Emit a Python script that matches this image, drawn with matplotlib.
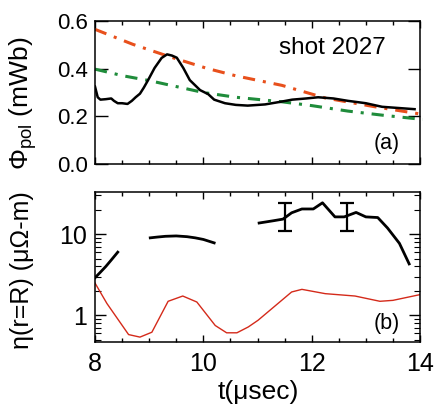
import matplotlib
matplotlib.use("Agg")
import matplotlib.pyplot as plt
from matplotlib.ticker import MultipleLocator, LogLocator, NullFormatter, FixedLocator
import numpy as np

plt.rcParams['font.family'] = ['Liberation Sans', 'DejaVu Sans']
plt.rcParams['mathtext.fontset'] = 'custom'
plt.rcParams['mathtext.rm'] = 'Liberation Sans'
plt.rcParams['mathtext.it'] = 'Liberation Sans:italic'

# ---- panel (a) data ----
flux_t = [8.00, 8.05, 8.10, 8.20, 8.30, 8.35, 8.42, 8.50, 8.60, 8.68, 8.75, 8.83, 8.90,
          8.98, 9.10, 9.23, 9.33, 9.42, 9.51, 9.63, 9.75, 9.94, 10.09, 10.20, 10.40,
          10.60, 10.82, 11.14, 11.40, 11.64, 11.90, 12.12, 12.40, 12.67, 13.00, 13.30,
          13.60, 13.90]
flux = [0.325, 0.280, 0.270, 0.272, 0.275, 0.265, 0.255, 0.255, 0.252, 0.265, 0.280, 0.295,
        0.320, 0.352, 0.403, 0.445, 0.460, 0.455, 0.446, 0.403, 0.352, 0.310, 0.293, 0.270,
        0.255, 0.248, 0.245, 0.250, 0.260, 0.270, 0.275, 0.280, 0.275, 0.265, 0.255, 0.240,
        0.235, 0.230]
fit1_t = [8.0, 8.7, 9.38, 10.07, 10.6, 11.45, 12.25, 13.17, 14.0]
fit1 = [0.565, 0.502, 0.450, 0.401, 0.370, 0.330, 0.277, 0.240, 0.210]
fit2_t = [8.0, 8.52, 9.0, 9.4, 10.0, 10.6, 11.45, 12.0, 12.67, 13.3, 14.05]
fit2 = [0.398, 0.370, 0.350, 0.330, 0.300, 0.280, 0.261, 0.245, 0.222, 0.205, 0.187]

# ---- panel (b) data ----
eta1_t = [8.0, 8.1, 8.2, 8.3, 8.42]
eta1 = [2.9, 3.4, 4.0, 4.8, 6.0]
eta2_t = [9.02, 9.15, 9.3, 9.5, 9.7, 9.85, 10.0, 10.2]
eta2 = [9.0, 9.2, 9.4, 9.5, 9.3, 9.0, 8.6, 7.8]
eta3_t = [11.03, 11.29, 11.47, 11.63, 11.82, 12.03, 12.20, 12.43, 12.60, 12.82, 13.00,
          13.22, 13.40, 13.62, 13.80]
eta3 = [13.7, 14.6, 15.3, 18.3, 20.4, 20.4, 24.3, 16.3, 16.3, 18.5, 16.3, 16.0, 11.9, 7.7, 4.3]
err_t = [11.5, 12.65]
err_mid = [15.6, 16.3]
err_lo = [10.9, 10.9]
err_hi = [23.9, 23.9]
red_t = [8.0, 8.22, 8.62, 8.83, 9.05, 9.35, 9.62, 9.88, 10.22, 10.43, 10.62, 10.83, 11.01,
         11.63, 11.82, 12.25, 12.80, 13.26, 13.50, 14.0]
red = [2.5, 1.4, 0.58, 0.54, 0.62, 1.49, 1.73, 1.46, 0.75, 0.61, 0.61, 0.72, 0.87,
       1.94, 2.09, 1.85, 1.73, 1.49, 1.53, 1.8]

W, H = 435, 408
fig = plt.figure(figsize=(W / 100, H / 100), dpi=100)

def box(x0, y0, x1, y1):
    return [x0 / W, 1 - y1 / H, (x1 - x0) / W, (y1 - y0) / H]

axa = fig.add_axes(box(95, 21, 420, 164))
axb = fig.add_axes(box(95, 192, 420, 342))

ORANGE = '#e8501c'
GREEN = '#1f8c3b'
RED = '#d42a1a'
dd = (0, (4, 2.6, 1, 2.6))

axa.plot(fit1_t, fit1, color=ORANGE, lw=2.2, ls=dd, zorder=2)
axa.plot(fit2_t, fit2, color=GREEN, lw=2.2, ls=dd, zorder=2, clip_on=False)
axa.plot(flux_t, flux, color='black', lw=1.8, zorder=3)
axa.set_xlim(8, 14)
axa.set_ylim(0, 0.6)
axa.yaxis.set_major_locator(FixedLocator([0.0, 0.2, 0.4, 0.6]))
axa.set_yticklabels(['0.0', '0.2', '0.4', '0.6'])
axa.xaxis.set_major_locator(MultipleLocator(2))
axa.xaxis.set_minor_locator(MultipleLocator(0.5))
axa.tick_params(axis='x', which='both', direction='in', top=True, bottom=True, labelbottom=False)
axa.tick_params(axis='x', which='major', length=5, width=1)
axa.tick_params(axis='x', which='minor', length=3, width=1)
axa.tick_params(axis='y', which='major', direction='in', left=True, right=True, length=9, width=1,
                labelsize=16, pad=5)
axa.text(0.73, 0.81, 'shot 2027', transform=axa.transAxes, ha='center', va='center', fontsize=17.5)
axa.text(0.898, 0.14, '(a)', transform=axa.transAxes, ha='center', va='center', fontsize=15.5)

axb.set_yscale('log')
axb.plot(red_t, red, color=RED, lw=1.0, zorder=2)
axb.plot(eta1_t, eta1, color='black', lw=2.0, zorder=3)
axb.plot(eta2_t, eta2, color='black', lw=2.0, zorder=3)
axb.plot(eta3_t, eta3, color='black', lw=2.0, zorder=3)
yerr = [np.array(err_mid) - np.array(err_lo), np.array(err_hi) - np.array(err_mid)]
axb.errorbar(err_t, err_mid, yerr=yerr, fmt='none', ecolor='black', elinewidth=1.6,
             capsize=5, capthick=1.6, zorder=4)
axb.set_xlim(8, 14)
axb.set_ylim(0.47, 33)
axb.xaxis.set_major_locator(MultipleLocator(2))
axb.xaxis.set_minor_locator(MultipleLocator(0.5))
axb.yaxis.set_major_locator(FixedLocator([1, 10]))
axb.set_yticklabels(['1', '10'])
axb.yaxis.set_minor_locator(LogLocator(base=10, subs=np.arange(2, 10)))
axb.yaxis.set_minor_formatter(NullFormatter())
axb.tick_params(axis='x', which='both', direction='in', top=True, bottom=True)
axb.tick_params(axis='x', which='major', length=5, width=1, labelsize=18, pad=7)
axb.tick_params(axis='x', which='minor', length=3, width=1)
axb.tick_params(axis='y', which='both', direction='in', left=True, right=True, labelsize=18, pad=6)
axb.tick_params(axis='y', which='major', length=8, width=1)
axb.tick_params(axis='y', which='minor', length=4, width=0.8)
axb.text(0.898, 0.12, '(b)', transform=axb.transAxes, ha='center', va='center', fontsize=15.5)

for ax in (axa, axb):
    for s in ax.spines.values():
        s.set_linewidth(1.1)

fig.text(23 / W, 1 - 103 / H, r'$\Phi_{\rm pol}$ (mWb)', rotation=90, ha='center', va='center', fontsize=19)
fig.text(22 / W, 1 - 270 / H, 'η(r=R) (μΩ-m)', rotation=90, ha='center', va='center', fontsize=18)
fig.text(258 / W, 1 - 392 / H, 't(μsec)', ha='center', va='center', fontsize=19)

fig.savefig('out.png', dpi=100)
